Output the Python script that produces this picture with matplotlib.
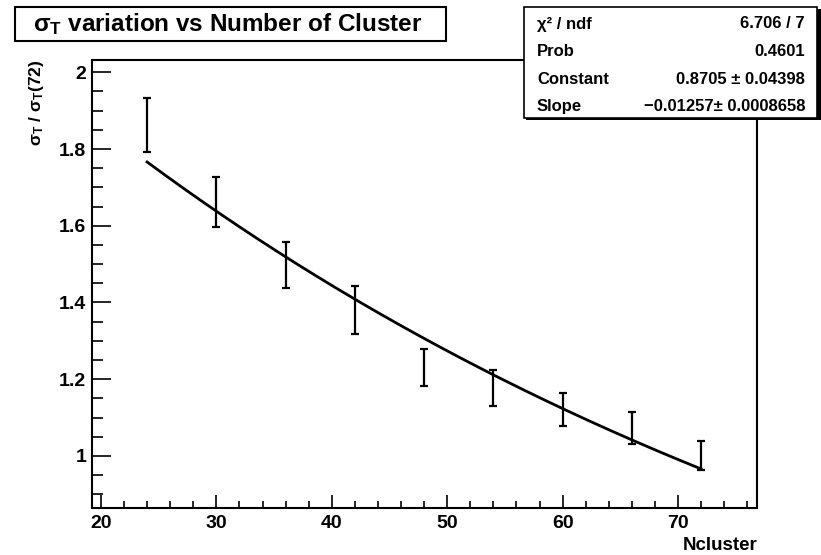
import numpy as np
import matplotlib
matplotlib.use("Agg")
import matplotlib.pyplot as plt
from matplotlib.patches import Rectangle
from matplotlib.ticker import MultipleLocator, FormatStrFormatter

plt.rcParams['font.family'] = ['Liberation Sans', 'DejaVu Sans']
plt.rcParams['mathtext.fontset'] = 'custom'
plt.rcParams['mathtext.rm'] = 'Liberation Sans'
plt.rcParams['mathtext.bf'] = 'Liberation Sans:bold'

# ---- data ----
ncluster = [24, 30, 36, 42, 48, 54, 60, 66, 72]
ratio = [1.863, 1.661, 1.497, 1.380, 1.230, 1.177, 1.120, 1.073, 1.000]
ratio_err = [0.071, 0.065, 0.060, 0.063, 0.049, 0.047, 0.043, 0.041, 0.038]

fit_constant = 0.8705
fit_slope = -0.01257
stats_labels = ["\u03c7\u00b2 / ndf", "Prob", "Constant", "Slope"]
stats_values = ["6.706 / 7", "0.4601", "0.8705 \u00b1 0.04398", "\u22120.01257\u00b1 0.0008658"]

W, H = 821, 555
fig = plt.figure(figsize=(W / 100, H / 100), dpi=100)
fig.patch.set_facecolor('white')

def fx(px):
    return px / W

def fy(py):
    return 1 - py / H

ax_l, ax_r, ax_t, ax_b = 91.7, 756.5, 60.0, 507.7
ax = fig.add_axes([fx(ax_l), fy(ax_b), fx(ax_r) - fx(ax_l), fy(ax_t) - fy(ax_b)])

ax.errorbar(ncluster, ratio, yerr=ratio_err, fmt='none', ecolor='black',
            elinewidth=1.6, capsize=3, capthick=1.6)
xf = np.linspace(ncluster[0], ncluster[-1], 300)
ax.plot(xf, np.exp(fit_constant + fit_slope * xf), color='black', lw=2.0)

ax.set_xlim(19.2, 76.8)
ax.set_ylim(0.865, 2.032)

ax.xaxis.set_major_locator(MultipleLocator(10))
ax.xaxis.set_minor_locator(MultipleLocator(2))
ax.yaxis.set_major_locator(MultipleLocator(0.2))
ax.yaxis.set_minor_locator(MultipleLocator(0.05))
ax.yaxis.set_major_formatter(FormatStrFormatter('%g'))

for s in ax.spines.values():
    s.set_linewidth(1.5)
ax.tick_params(axis='both', which='both', direction='in', top=False, right=False,
               width=1.2, labelsize=14)
ax.tick_params(axis='y', which='major', length=13.7, pad=4)
ax.tick_params(axis='y', which='minor', length=7.7)
ax.tick_params(axis='x', which='major', length=9.4, pad=5)
ax.tick_params(axis='x', which='minor', length=5)
for lab in ax.get_xticklabels() + ax.get_yticklabels():
    lab.set_fontweight('bold')

# axis titles
fig.text(fx(757), fy(546), "Ncluster", ha='right', va='center', fontsize=13.5,
         fontweight='bold')
fig.text(fx(37), fy(60), r"$\mathregular{\sigma_{T}}$ / $\mathregular{\sigma_{T}}$(72)",
         rotation=90, ha='center', va='top', fontsize=12.5, fontweight='bold')

# title box
fig.add_artist(Rectangle((fx(15), fy(41)), fx(446) - fx(15), fy(7) - fy(41),
                         transform=fig.transFigure, facecolor='white',
                         edgecolor='black', lw=1.5, zorder=5))
fig.text(fx(33), fy(24.5), r"$\mathregular{\sigma_{T}}$ variation vs Number of Cluster",
         ha='left', va='center', fontsize=17.5, fontweight='bold', zorder=6)

# stats box
sx0, sx1, sy0, sy1 = 524, 819, 7, 118
fig.add_artist(Rectangle((fx(sx0) + 0.002, fy(sy1) - 0.004), fx(sx1) - fx(sx0),
                         fy(sy0) - fy(sy1), transform=fig.transFigure,
                         facecolor='black', edgecolor='none', zorder=5))
fig.add_artist(Rectangle((fx(sx0), fy(sy1)), fx(sx1) - fx(sx0) - 0.002, fy(sy0) - fy(sy1),
                         transform=fig.transFigure, facecolor='white',
                         edgecolor='black', lw=1.2, zorder=6))
rows_y = [24, 51.7, 79, 106.7]
for lbl, val, ry in zip(stats_labels, stats_values, rows_y):
    fig.text(fx(537), fy(ry), lbl, ha='left', va='center', fontsize=12,
             fontweight='bold', zorder=7)
    fig.text(fx(805), fy(ry), val, ha='right', va='center', fontsize=12,
             fontweight='bold', zorder=7)

fig.savefig("out.png", dpi=100, facecolor='white')
